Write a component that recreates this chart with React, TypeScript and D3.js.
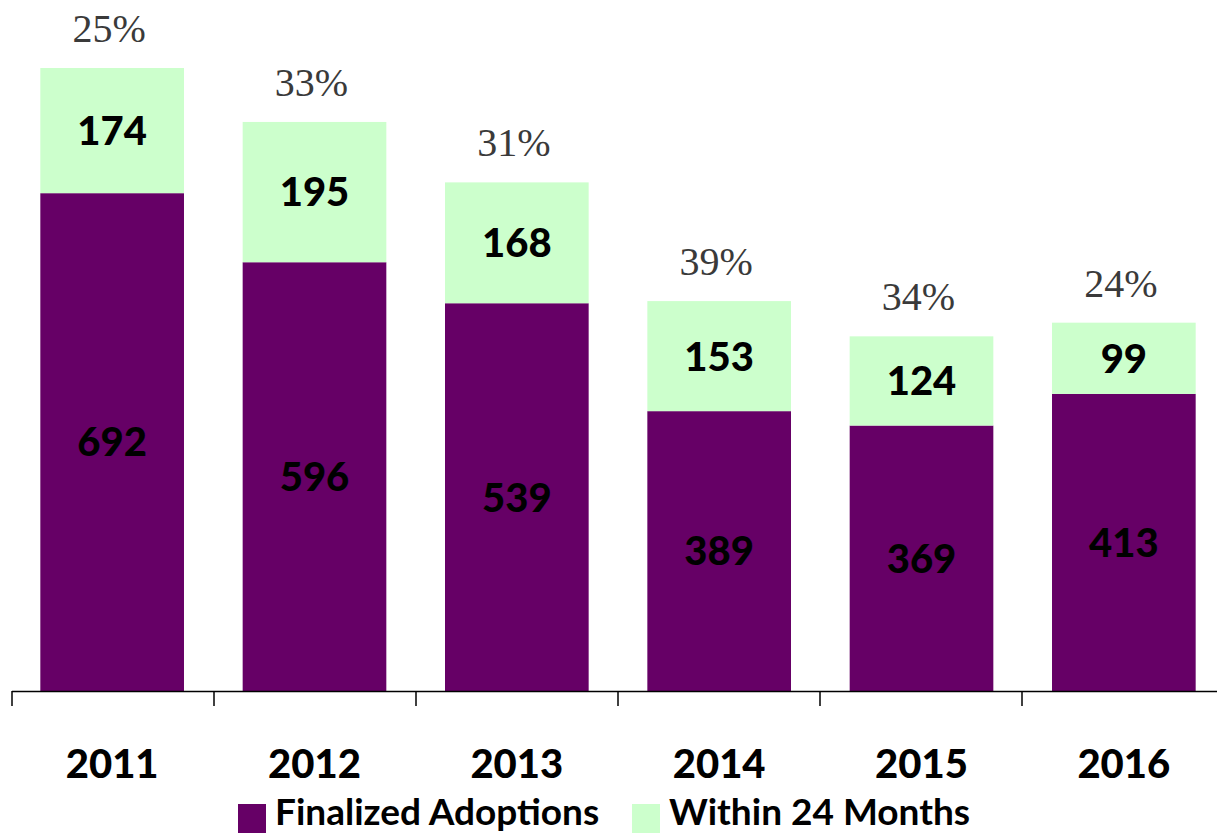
import React from "react";
import * as d3 from "d3";

const years = ["2011", "2012", "2013", "2014", "2015", "2016"];
const finalized = [692, 596, 539, 389, 369, 413];
const within24 = [174, 195, 168, 153, 124, 99];
const percentLabels = ["25%", "33%", "31%", "39%", "34%", "24%"];
const seriesNames = ["Finalized Adoptions", "Within 24 Months"];
const colors = ["#660066", "#CCFFCC"];

const W = 1217;
const H = 833;
const boldFont = "Lato, 'Open Sans', sans-serif";

export default function App() {
  const x = d3.scaleBand<string>().domain(years).range([12, 12 + 6 * 202]).paddingInner(0.29).paddingOuter(0.14);
  const y = d3.scaleLinear().domain([0, 866]).range([691, 68]);
  const band = d3.scaleBand<string>().domain(years).range([12, 12 + 6 * 202]);

  const stack = d3.stack<any>().keys(["f", "w"])(
    years.map((yr, i) => ({ year: yr, f: finalized[i], w: within24[i] }))
  );

  const legendItems = [
    { x: 238, name: seriesNames[0], color: colors[0] },
    { x: 632, name: seriesNames[1], color: colors[1] },
  ];

  return (
    <div style={{ position: "absolute", left: 0, top: 0 }}>
      <svg width={W} height={H} style={{ display: "block" }}>
        <rect width={W} height={H} fill="#ffffff" />
        {stack.map((layer, li) =>
          layer.map((d, i) => {
            const x0 = x(years[i])!;
            const y0 = y(d[1]);
            const y1 = y(d[0]);
            return (
              <g key={`${li}-${i}`}>
                <rect x={x0} y={y0} width={x.bandwidth()} height={y1 - y0} fill={colors[li]} />
                <text
                  x={x0 + x.bandwidth() / 2}
                  y={(y0 + y1) / 2}
                  dy="0.36em"
                  textAnchor="middle"
                  fontFamily={boldFont}
                  fontWeight={900}
                  fontSize={40}
                  fill="#000"
                >
                  {li === 0 ? finalized[i] : within24[i]}
                </text>
              </g>
            );
          })
        )}
        {years.map((yr, i) => (
          <text
            key={"p" + yr}
            x={x(yr)! + x.bandwidth() / 2 - 3}
            y={y(finalized[i] + within24[i]) - 26}
            textAnchor="middle"
            fontFamily="'Liberation Serif', 'Times New Roman', serif"
            fontSize={40}
            fill="#3a3a3a"
          >
            {percentLabels[i]}
          </text>
        ))}
        <line x1={12} x2={W} y1={y(0) + 0.5} y2={y(0) + 0.5} stroke="#000" strokeWidth={1.5} />
        {years.map((yr) => (
          <line
            key={"t" + yr}
            x1={band(yr)!}
            x2={band(yr)!}
            y1={y(0)}
            y2={y(0) + 15}
            stroke="#000"
            strokeWidth={1.5}
          />
        ))}
        {years.map((yr) => (
          <text
            key={"y" + yr}
            x={x(yr)! + x.bandwidth() / 2}
            y={778}
            textAnchor="middle"
            fontFamily={boldFont}
            fontWeight={900}
            fontSize={40}
            fill="#000"
          >
            {yr}
          </text>
        ))}
        {legendItems.map((it) => (
          <g key={it.name}>
            <rect x={it.x} y={804} width={28} height={30} fill={it.color} />
            <text x={it.x + 37} y={825} fontFamily={boldFont} fontWeight="bold" fontSize={37} fill="#000">
              {it.name}
            </text>
          </g>
        ))}
      </svg>
    </div>
  );
}
